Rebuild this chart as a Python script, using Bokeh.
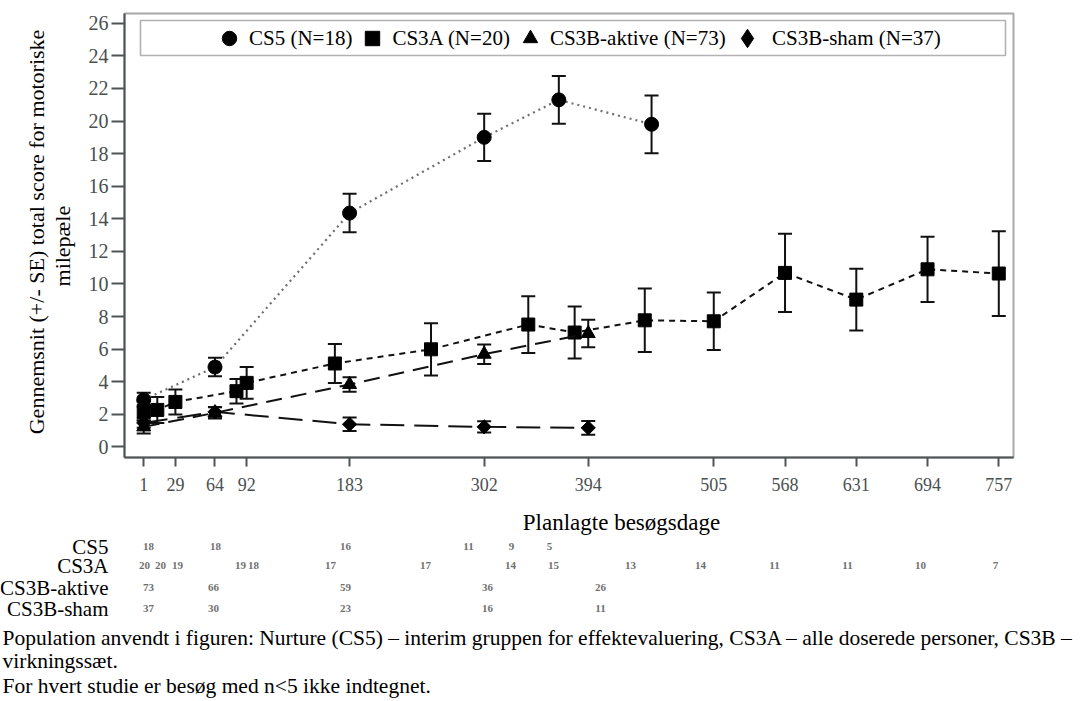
import math
from bokeh.plotting import figure
from bokeh.models import (Range1d, ColumnDataSource, Whisker, TeeHead, Legend, LegendItem,
                          BoxAnnotation, FixedTicker)
from bokeh.layouts import column, row
from bokeh.embed import file_html
from bokeh.resources import INLINE
from bokeh.core.properties import value

# ---------------- data ----------------
x_ticks = [1, 29, 64, 92, 183, 302, 394, 505, 568, 631, 694, 757]
y_ticks = list(range(0, 27, 2))

cs5_day = [1, 64, 183, 302, 368, 450]
cs5_mean = [2.9, 4.9, 14.35, 19.0, 21.3, 19.8]
cs5_se = [0.43, 0.57, 1.18, 1.45, 1.47, 1.77]

cs3a_day = [1, 13, 29, 83, 92, 170, 255, 341, 382, 444, 505, 568, 631, 694, 757]
cs3a_mean = [2.2, 2.27, 2.76, 3.42, 3.93, 5.12, 5.99, 7.51, 7.02, 7.77, 7.71, 10.68, 9.04, 10.9, 10.64]
cs3a_se = [0.6, 0.8, 0.77, 0.75, 0.97, 1.2, 1.6, 1.74, 1.6, 1.95, 1.76, 2.4, 1.9, 2.0, 2.6]

akt_day = [1, 64, 183, 302, 394]
akt_mean = [1.23, 2.09, 3.83, 5.69, 6.96]
akt_se = [0.4, 0.35, 0.45, 0.6, 0.85]

sham_day = [1, 64, 183, 302, 394]
sham_mean = [1.47, 2.15, 1.39, 1.23, 1.17]
sham_se = [0.3, 0.3, 0.41, 0.35, 0.42]

# numbers of subjects per visit (table under the chart)
cs5_n = [18, 18, 16, 11, 9, 5]
cs3a_n = [20, 20, 19, 19, 18, 17, 17, 14, 15, 13, 14, 11, 11, 10, 7]
akt_n = [73, 66, 59, 36, 26]
sham_n = [37, 30, 23, 16, 11]

legend_labels = ["CS5 (N=18)", "CS3A (N=20)", "CS3B-aktive (N=73)", "CS3B-sham (N=37)"]
row_labels = ["CS5", "CS3A", "CS3B-aktive", "CS3B-sham"]
x_title = "Planlagte besøgsdage"
y_title = ["Gennemsnit (+/- SE) total score for motoriske", "milepæle"]
notes = ["Population anvendt i figuren: Nurture (CS5) \u2013 interim gruppen for effektevaluering, "
         "CS3A \u2013 alle doserede personer, CS3B \u2013",
         "virkningssæt.",
         "For hvert studie er besøg med n<5 ikke indtegnet."]

# ---------------- layout constants (page pixels) ----------------
SERIF = "Liberation Serif"
PAGE_W = 1080
YL_W = 80
MAIN_W = PAGE_W - YL_W
MAIN_H = 500
FR_L, FR_R, FR_T, FR_B = 44, 67, 13, 43
X_LO, X_HI = -16.0, 770.0
Y_LO, Y_HI = -0.65, 26.6
frame_w = MAIN_W - FR_L - FR_R
px_per_day = frame_w / (X_HI - X_LO)
frame_h = MAIN_H - FR_T - FR_B
px_per_unit = frame_h / (Y_HI - Y_LO)
FRAME_LEFT = YL_W + FR_L
FRAME_TOP = FR_T

def day_at(page_x):
    return X_LO + (page_x - FRAME_LEFT) / px_per_day

def val_at(page_y):
    return Y_HI - (page_y - FRAME_TOP) / px_per_unit

# ---------------- main plot ----------------
p = figure(width=MAIN_W, height=MAIN_H, x_range=Range1d(X_LO, X_HI), y_range=Range1d(Y_LO, Y_HI),
           output_backend="svg", toolbar_location=None,
           min_border_left=FR_L, min_border_right=FR_R, min_border_top=FR_T, min_border_bottom=FR_B)
p.xgrid.visible = False
p.ygrid.visible = False
p.outline_line_color = "#a8a8a8"
p.outline_line_width = 2

AX = "#4f5555"
for ax in (p.xaxis[0], p.yaxis[0]):
    ax.axis_line_color = AX
    ax.axis_line_width = 2
    ax.major_tick_line_color = AX
    ax.major_tick_line_width = 2
    ax.minor_tick_line_color = None
    ax.major_tick_in = 0
    ax.major_label_text_font = SERIF
    ax.major_label_text_color = "#4a4f4f"
p.xaxis.ticker = FixedTicker(ticks=x_ticks)
p.yaxis.ticker = FixedTicker(ticks=y_ticks)
p.xaxis.major_label_text_font_size = "18px"
p.yaxis.major_label_text_font_size = "20px"
p.xaxis.major_tick_out = 9
p.xaxis.major_label_standoff = 11
p.yaxis.major_tick_out = 13
p.yaxis.major_label_standoff = 3

# marker, size, angle, line colour, dash, width
series = [
    (cs5_day, cs5_mean, cs5_se, "circle", 14, 0.0, "#6e6e6e", "2 4", 2.2),
    (cs3a_day, cs3a_mean, cs3a_se, "square", 13, 0.0, "#111111", "6 5", 2.0),
    (akt_day, akt_mean, akt_se, "triangle", 14, 0.0, "#111111", "16 9", 2.0),
    (sham_day, sham_mean, sham_se, "square", 10, math.pi / 4, "#111111", "24 10", 2.0),
]
marker_renderers = []
for d, m, s, mk, sz, ang, lc, dash, lw in series:
    src = ColumnDataSource(dict(x=d, y=m, lo=[a - b for a, b in zip(m, s)], hi=[a + b for a, b in zip(m, s)]))
    p.line("x", "y", source=src, line_color=lc, line_dash=dash, line_width=lw)
    wk = Whisker(source=src, base="x", lower="lo", upper="hi", dimension="height",
                 line_color="#111111", line_width=2,
                 lower_head=TeeHead(size=14, line_color="#111111", line_width=2),
                 upper_head=TeeHead(size=14, line_color="#111111", line_width=2))
    p.add_layout(wk)
    r = p.scatter("x", "y", source=src, marker=mk, size=sz, angle=ang,
                  fill_color="black", line_color="black")
    marker_renderers.append(r)

# a diamond glyph used only as the legend symbol of the sham series
sham_key = p.scatter(x=[float("nan")], y=[float("nan")], marker="diamond", size=10,
                     fill_color="black", line_color="black")

# legend frame
p.add_layout(BoxAnnotation(left=day_at(140), right=day_at(1005), top=val_at(20), bottom=val_at(55),
                           fill_color=None, line_color="black", line_width=1.6))
leg_style = dict(orientation="horizontal", label_standoff=2, spacing=2, padding=0, margin=0,
                 label_text_font=SERIF, label_text_font_size="21px", label_text_color="black",
                 border_line_color=None, background_fill_alpha=0)
legend1 = Legend(items=[LegendItem(label=lab, renderers=[r])
                        for lab, r in zip(legend_labels[:3], marker_renderers[:3])],
                 location=(211 - FRAME_LEFT, frame_h - (56 - FRAME_TOP)),
                 glyph_width=36, glyph_height=36, **leg_style)
legend2 = Legend(items=[LegendItem(label=legend_labels[3], renderers=[sham_key])],
                 location=(724 - FRAME_LEFT, frame_h - (61 - FRAME_TOP)),
                 glyph_width=46, glyph_height=46, **leg_style)
p.add_layout(legend1, "center")
p.add_layout(legend2, "center")

# ---------------- y axis title ----------------
yl = figure(width=YL_W, height=MAIN_H, x_range=Range1d(0, YL_W), y_range=Range1d(0, MAIN_H),
            output_backend="svg", toolbar_location=None, min_border=0)
yl.axis.visible = False
yl.grid.visible = False
yl.outline_line_color = None
yl.text(x=[36, 62], y=[MAIN_H - 246, MAIN_H - 262], text=y_title, angle=math.pi / 2, text_align="center",
        text_baseline="middle", text_font=value(SERIF), text_font_size="22px", text_color="black")

# ---------------- table + notes ----------------
LOW_H = 201
LOW_TOP = MAIN_H
q = figure(width=PAGE_W, height=LOW_H, x_range=Range1d(day_at(0), day_at(PAGE_W)),
           y_range=Range1d(LOW_TOP + LOW_H, LOW_TOP), output_backend="svg", toolbar_location=None,
           min_border=0)
q.axis.visible = False
q.grid.visible = False
q.outline_line_color = None

q.text(x=[day_at(621)], y=[522], text=[x_title], text_align="center", text_baseline="middle",
       text_font=value(SERIF), text_font_size="23px", text_color="black")

row_y = [546, 565, 587, 608]
q.text(x=[day_at(108)] * 4, y=row_y, text=row_labels, text_align="right", text_baseline="middle",
       text_font=value(SERIF), text_font_size="21px", text_color="black")

# column positions of the numbers (layout, in page pixels of the reference)
cs5_pos = [148, 215, 345, 468, 511, 549]
cs3a_pos = [144, 160, 177, 240, 253, 330, 425, 510, 553, 630, 700, 774, 847, 920, 995]
akt_pos = [148, 213, 345, 487, 600]
sham_pos = [148, 213, 345, 487, 600]
for pos, ns, yy in [(cs5_pos, cs5_n, row_y[0]), (cs3a_pos, cs3a_n, row_y[1]),
                    (akt_pos, akt_n, row_y[2]), (sham_pos, sham_n, row_y[3])]:
    q.text(x=[day_at(v) for v in pos], y=[yy] * len(ns), text=[str(n) for n in ns],
           text_align="center", text_baseline="middle", text_font=value(SERIF),
           text_font_size="11px", text_font_style="bold", text_color="#707070")

q.text(x=[day_at(2)] * 3, y=[637, 660, 685], text=notes, text_align="left", text_baseline="middle",
       text_font=value(SERIF), text_font_size="21.5px", text_color="black")

layout = column(row(yl, p), q)
open("out.html", "w").write(file_html(layout, INLINE))
